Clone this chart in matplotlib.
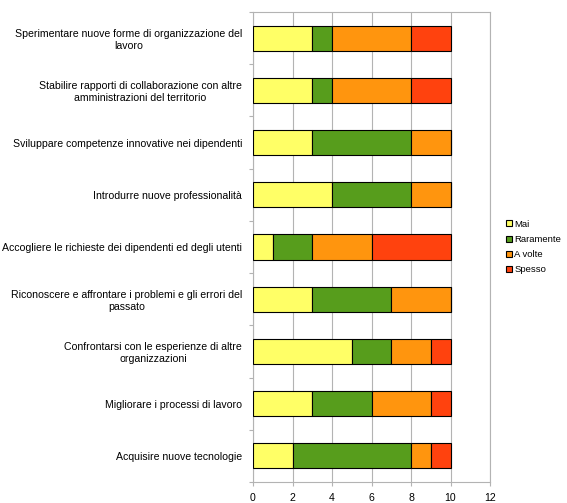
import matplotlib
matplotlib.use("Agg")
import matplotlib.pyplot as plt
import numpy as np

categories = [
    "Sperimentare nuove forme di organizzazione del\nlavoro",
    "Stabilire rapporti di collaborazione con altre\namministrazioni del territorio",
    "Sviluppare competenze innovative nei dipendenti",
    "Introdurre nuove professionalità",
    "Accogliere le richieste dei dipendenti ed degli utenti",
    "Riconoscere e affrontare i problemi e gli errori del\npassato",
    "Confrontarsi con le esperienze di altre\norganizzazioni",
    "Migliorare i processi di lavoro",
    "Acquisire nuove tecnologie",
]
series_names = ["Mai", "Raramente", "A volte", "Spesso"]
mai = [3, 3, 3, 4, 1, 3, 5, 3, 2]
raramente = [1, 1, 5, 4, 2, 4, 2, 3, 6]
a_volte = [4, 4, 2, 2, 3, 3, 2, 3, 1]
spesso = [2, 2, 0, 0, 4, 0, 1, 1, 1]
colors = ["#FFFF66", "#579D1C", "#FF950E", "#FF420E"]
x_ticks = [0, 2, 4, 6, 8, 10, 12]

plt.rcParams['font.family'] = ['Liberation Sans', 'DejaVu Sans']
fig = plt.figure(figsize=(5.67, 5.03), dpi=100)
ax = fig.add_axes([253/567, 21/503, (490-253)/567, (482-12)/503])

y = np.arange(len(categories))
left = np.zeros(len(categories))
for name, vals, c in zip(series_names, [mai, raramente, a_volte, spesso], colors):
    vals = np.array(vals, dtype=float)
    ax.barh(y, vals, left=left, height=0.48, color=c, edgecolor="black",
            linewidth=0.8, label=name, zorder=3)
    left += vals

ax.set_ylim(len(categories) - 0.5, -0.5)
ax.set_xlim(0, 12)
ax.set_xticks(x_ticks)
ax.set_yticks(y)
ax.set_yticklabels(categories, fontsize=7.6, multialignment="center",
                   linespacing=1.25)
ax.set_yticks(np.arange(-0.5, len(categories), 1), minor=True)
ax.tick_params(axis="y", which="major", length=0, pad=8)
ax.tick_params(axis="y", which="minor", length=3, color="#b3b3b3", width=0.8)
ax.tick_params(axis="x", length=3, color="#b3b3b3", width=0.8, labelsize=7.6,
               pad=5)
ax.grid(axis="x", color="#b3b3b3", linewidth=0.8, zorder=0)
for s in ax.spines.values():
    s.set_color("#b3b3b3")
    s.set_linewidth(0.8)

fig.legend(loc="center left", bbox_to_anchor=(506/567, 1 - 247/503),
           frameon=False, fontsize=6.8, handlelength=0.6, handleheight=0.6,
           handletextpad=0.3, labelspacing=0.65, borderaxespad=0, borderpad=0)

fig.savefig("out.png", dpi=100)
